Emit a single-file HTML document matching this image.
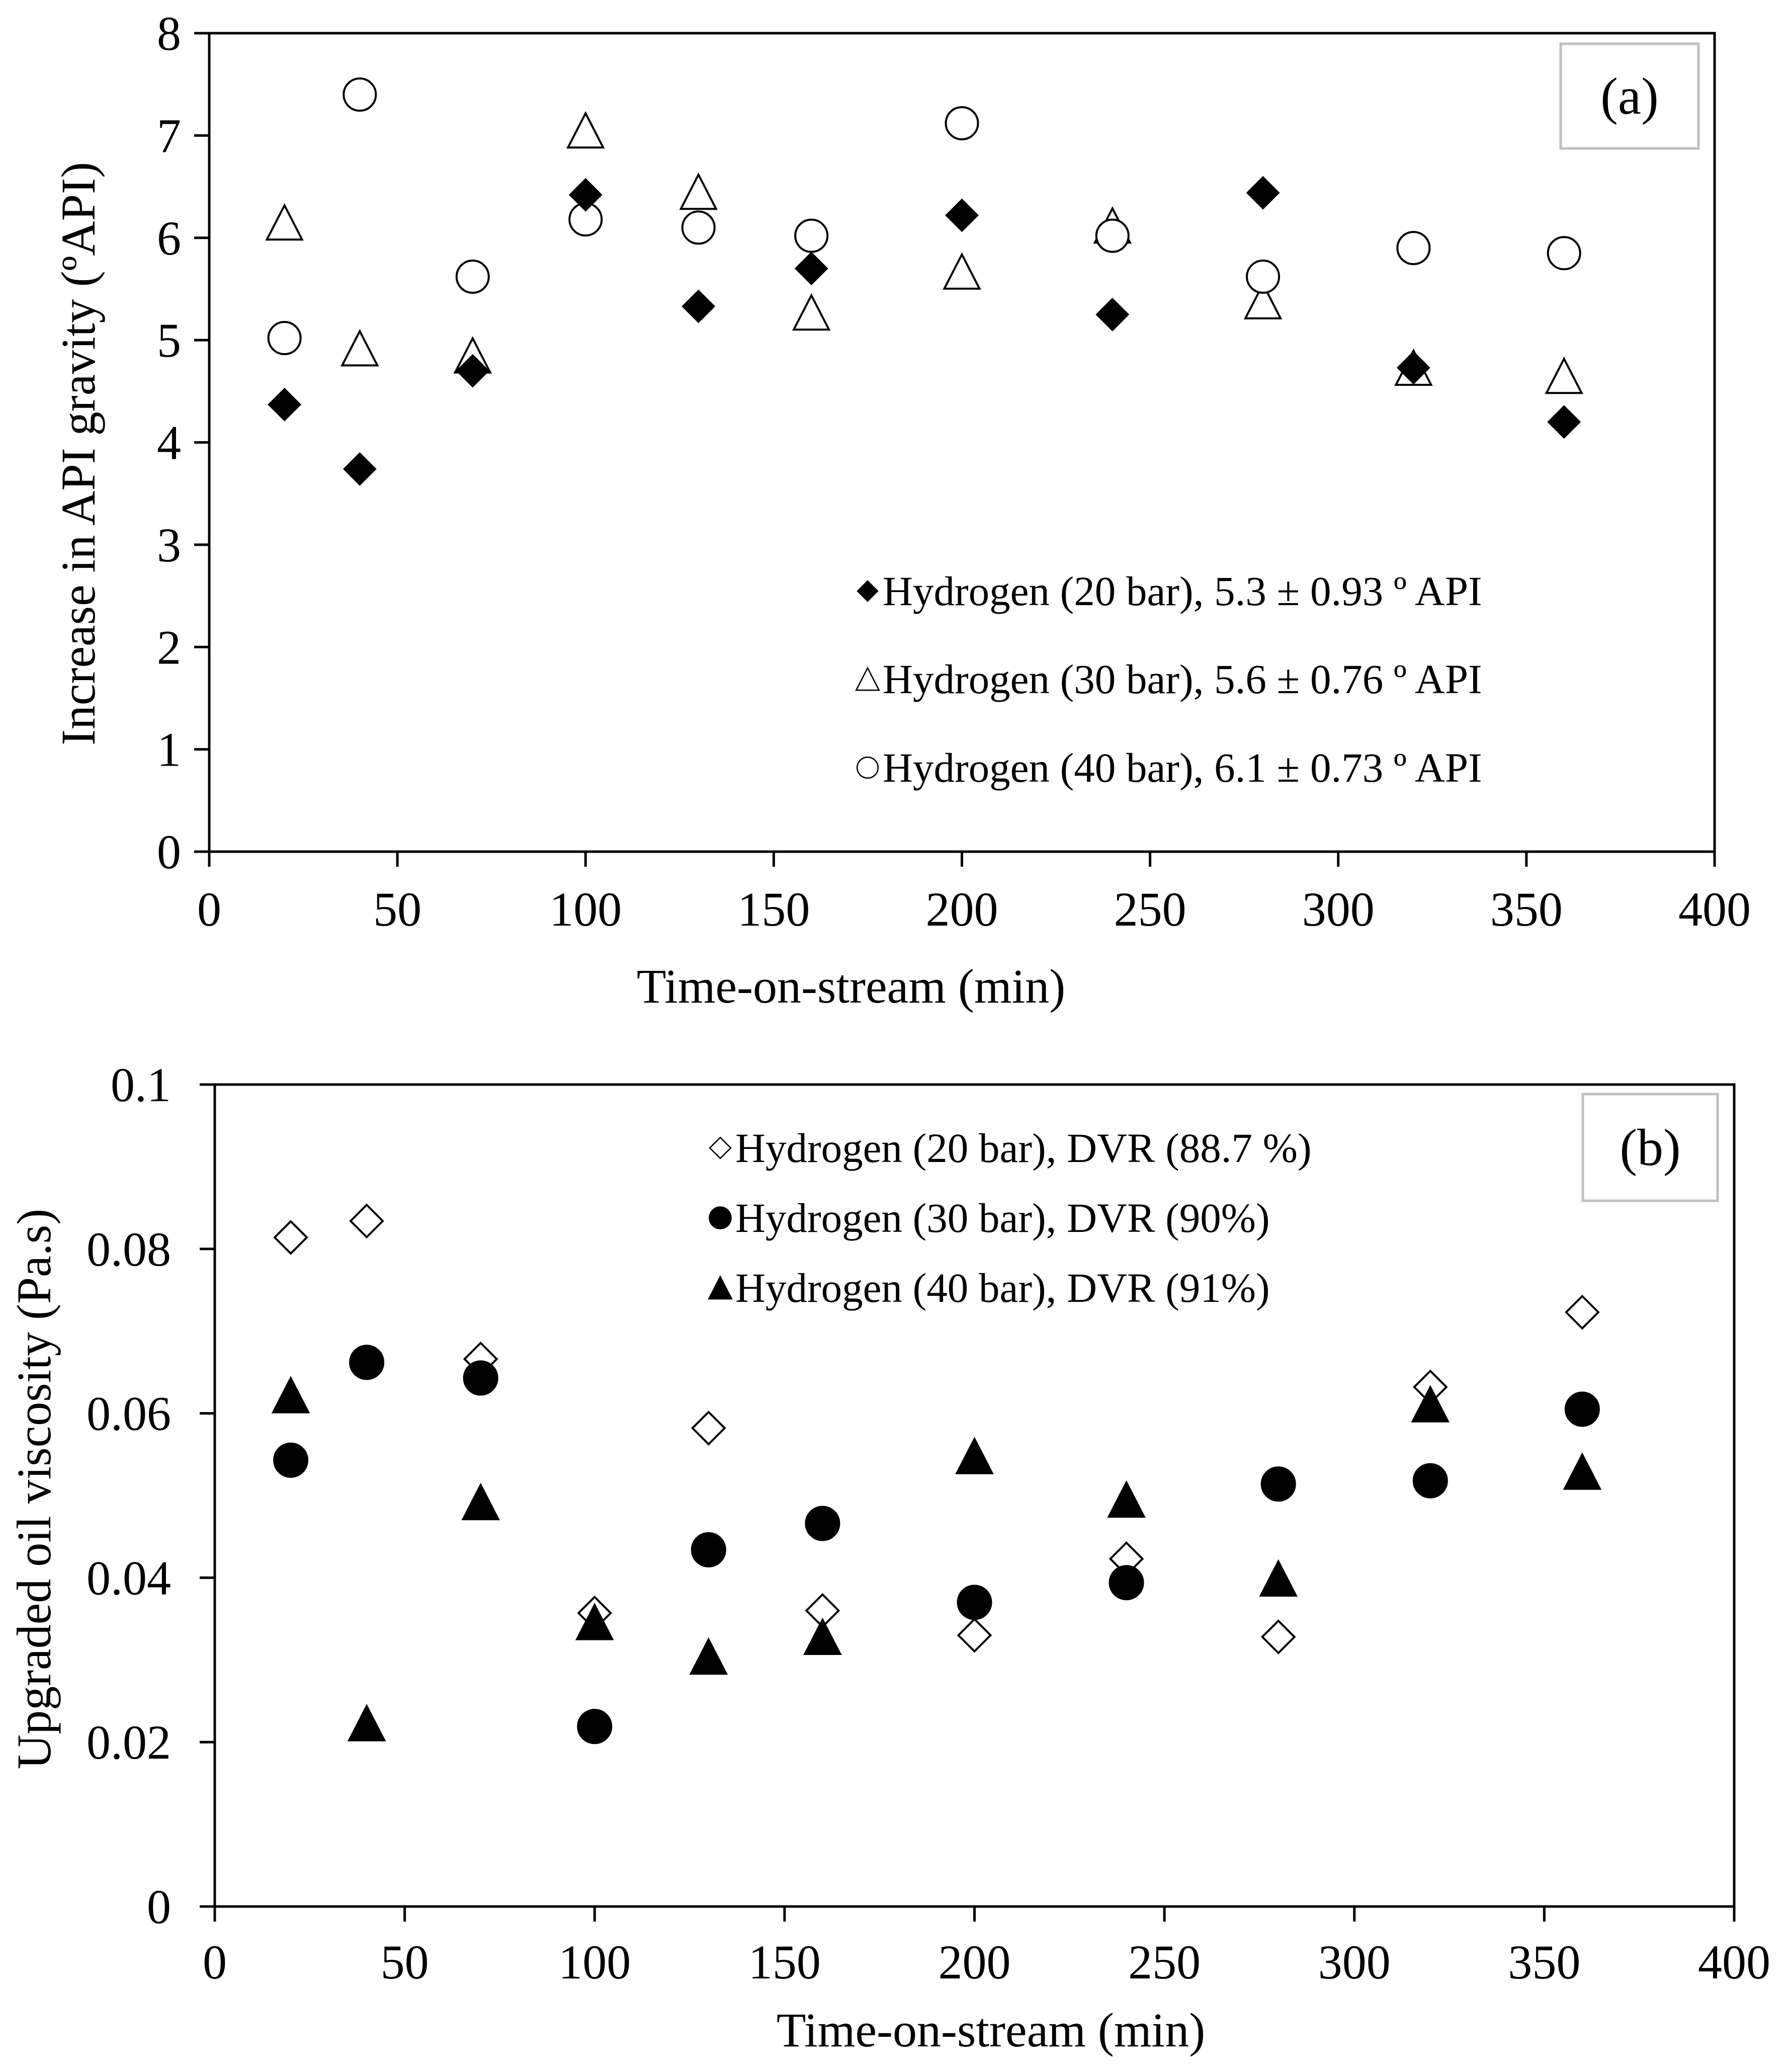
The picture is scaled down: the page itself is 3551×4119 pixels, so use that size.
<!DOCTYPE html>
<html><head><meta charset="utf-8"><style>
html,body{margin:0;padding:0;background:#fff}
svg{display:block;font-family:"Liberation Serif",serif}
</style></head><body>
<svg id="fig" width="3551" height="4119" viewBox="0 0 3551 4119" xmlns="http://www.w3.org/2000/svg">
<g id="pa"></g>
<g id="pb"></g>
</svg>
<script>
const timeA = [20,40,70,100,130,160,200,240,280,320,360];
const api20 = [4.37,3.74,4.70,6.42,5.33,5.70,6.22,5.25,6.44,4.73,4.20];
const api30 = [6.15,4.92,4.85,7.05,6.45,5.27,5.67,6.12,5.38,4.73,4.65];
const api40 = [5.02,7.40,5.62,6.18,6.10,6.02,7.12,6.02,5.62,5.90,5.85];
const timeB = [20,40,70,100,130,160,200,240,280,320,360];
const visc20 = [0.0814,0.0834,0.0666,0.0357,0.0582,0.0360,0.0330,0.0423,0.0328,0.0632,0.0723];
const visc30 = [0.0543,0.0662,0.0643,0.0219,0.0434,0.0466,0.0370,0.0394,0.0514,0.0518,0.0605];
const visc40 = [0.0622,0.0223,0.0492,0.0346,0.0304,0.0328,0.0548,0.0495,0.0399,0.0611,0.0529];
const xTicks = [0,50,100,150,200,250,300,350,400];
const yTicksA = [0,1,2,3,4,5,6,7,8];
const yTicksB = [0,0.02,0.04,0.06,0.08,0.1];
const yLabelsB = ["0","0.02","0.04","0.06","0.08","0.1"];

const NS="http://www.w3.org/2000/svg";
function mk(parent,tag,attrs,text){const e=document.createElementNS(NS,tag);for(const k in attrs)e.setAttribute(k,attrs[k]);if(text!==undefined)e.textContent=text;parent.appendChild(e);return e;}

function marker(g,type,cx,cy){
  let e;
  if(type==='diamondF'||type==='diamondO'){
    const h=32;
    e=mk(g,'polygon',{points:`${cx},${cy-h} ${cx+h},${cy} ${cx},${cy+h} ${cx-h},${cy}`,fill:type==='diamondF'?'#000':'#fff',stroke:'#000','stroke-width':type==='diamondF'?2:4});
  } else if(type==='triO'||type==='triF'){
    const w=35,h=34;
    e=mk(g,'polygon',{points:`${cx},${cy-h} ${cx+w},${cy+h} ${cx-w},${cy+h}`,fill:type==='triF'?'#000':'#fff',stroke:'#000','stroke-width':4});
  } else {
    e=mk(g,'circle',{cx:cx,cy:cy,r:type==='circF'?33:32,fill:type==='circF'?'#000':'#fff',stroke:'#000','stroke-width':4});
  }
  return e;
}

function panel(g,cfg){
  const {L,R,T,B,ymax}=cfg;
  const sx=v=>L+(v/400)*(R-L);
  const sy=v=>B-(v/ymax)*(B-T);
  const ax=mk(g,'path',{d:`M${L},${T} L${R},${T} L${R},${B} L${L},${B} Z`,fill:'none',stroke:'#000','stroke-width':5});
  
  
  xTicks.forEach(t=>{
    const x=sx(t);
    const l=mk(g,'line',{x1:x,y1:B,x2:x,y2:B+30,stroke:'#000','stroke-width':5});
    
    
    const tx=mk(g,'text',{x:x,y:cfg.xLabY,'font-size':96,'text-anchor':'middle'},String(t));
    
    
  });
  cfg.yTicks.forEach((t,i)=>{
    const y=sy(t);
    const l=mk(g,'line',{x1:L-30,y1:y,x2:L,y2:y,stroke:'#000','stroke-width':5});
    
    
    const tx=mk(g,'text',{x:cfg.yLabX,y:y+33,'font-size':96,'text-anchor':'end'},cfg.yLabels[i]);
    
    
  });
  const xt=mk(g,'text',{x:cfg.xTitleX,y:cfg.xTitleY,'font-size':96,'text-anchor':'middle'},'Time-on-stream (min)');
  
  
  const yt=mk(g,'text',{x:0,y:0,'font-size':96,'text-anchor':'middle',transform:`translate(${cfg.yTitleX},${cfg.yTitleY}) rotate(-90)`},cfg.yTitle);
  
  
  const bx=mk(g,'rect',{x:cfg.box[0],y:cfg.box[1],width:cfg.box[2],height:cfg.box[3],fill:'#fff',stroke:'#c0c0c0','stroke-width':5});
  
  
  const bt=mk(g,'text',{x:cfg.box[0]+cfg.box[2]/2,y:cfg.box[1]+cfg.box[3]/2+35,'font-size':104,'text-anchor':'middle'},cfg.label);
  
  
  cfg.drawOrder.forEach(si=>{
    const s=cfg.series[si];
    const sg=mk(g,'g',{});
    
    
    s.ys.forEach((v,i)=>{
      const m=marker(sg,s.type,sx(cfg.xs[i]),sy(v));
      
      
    });
  });
  cfg.series.forEach((s,i)=>{
    const y=cfg.legY[i];
    const lg=mk(g,'g',{});
    
    
    const lm=mk(lg,'g',{transform:`translate(${cfg.legX},${y}) scale(0.65) translate(${-cfg.legX},${-y})`});
    marker(lm,s.type,cfg.legX,y);
    const lt=mk(lg,'text',{x:cfg.legX+30,y:y+28,'font-size':83},s.label);
    
    
  });
}

panel(document.getElementById('pa'),{
  L:416,R:3409,T:66,B:1693,ymax:8,yTicks:yTicksA,yLabels:yTicksA.map(String),
  xLabY:1840,yLabX:360,xTitleX:1692,xTitleY:1993,yTitleX:188,yTitleY:902,
  yTitle:'Increase in API gravity (\u00BAAPI)',
  box:[3103,87,274,208],label:'(a)',xs:timeA,
  legX:1725,legY:[1175,1350,1526],drawOrder:[1,2,0],
  series:[
    {name:'series-20bar',type:'diamondF',ys:api20,label:'Hydrogen (20 bar), 5.3 \u00B1 0.93 \u00BA API'},
    {name:'series-30bar',type:'triO',ys:api30,label:'Hydrogen (30 bar), 5.6 \u00B1 0.76 \u00BA API'},
    {name:'series-40bar',type:'circO',ys:api40,label:'Hydrogen (40 bar), 6.1 \u00B1 0.73 \u00BA API'}
  ]
});
panel(document.getElementById('pb'),{
  L:427,R:3448,T:2156,B:3790,ymax:0.1,yTicks:yTicksB,yLabels:yLabelsB,
  xLabY:3933,yLabX:340,xTitleX:1970,xTitleY:4068,yTitleX:100,yTitleY:2960,
  yTitle:'Upgraded oil viscosity (Pa.s)',
  box:[3147,2175,268,212],label:'(b)',xs:timeB,
  legX:1432,legY:[2282,2421,2560],drawOrder:[0,1,2],
  series:[
    {name:'series-20bar',type:'diamondO',ys:visc20,label:'Hydrogen (20 bar), DVR (88.7 %)'},
    {name:'series-30bar',type:'circF',ys:visc30,label:'Hydrogen (30 bar), DVR (90%)'},
    {name:'series-40bar',type:'triF',ys:visc40,label:'Hydrogen (40 bar), DVR (91%)'}
  ]
});
</script>
</body></html>
